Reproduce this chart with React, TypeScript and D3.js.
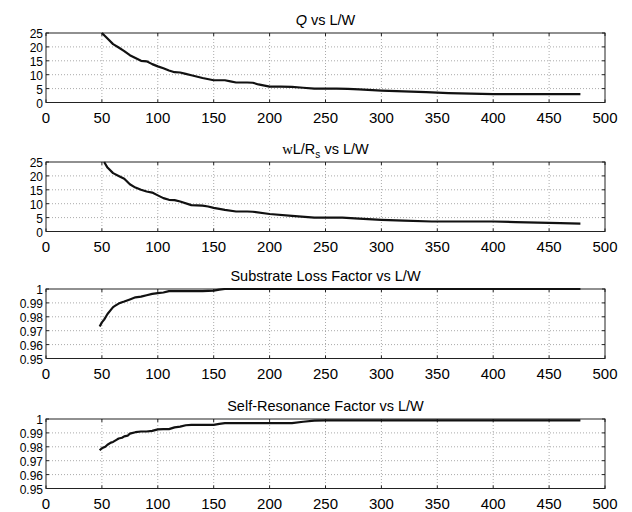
import React, { useEffect, useRef } from "react";
import * as d3 from "d3";

// Q vs L/W
const qX = [50, 55, 60, 65, 70, 75, 80, 85, 90, 95, 100, 105, 110, 115, 120, 125, 130, 140, 150, 160, 165, 170, 180, 185, 190, 200, 210, 220, 230, 240, 250, 260, 270, 280, 300, 320, 340, 360, 380, 400, 420, 440, 460, 478];
const qY = [25, 23, 21, 19.8, 18.5, 17, 16, 15, 14.8, 13.8, 13, 12.3, 11.5, 10.9, 10.8, 10.3, 9.8, 8.8, 8, 8, 7.6, 7.2, 7.2, 7.1, 6.5, 5.7, 5.7, 5.6, 5.3, 5, 5, 5, 4.9, 4.7, 4.3, 4, 3.7, 3.4, 3.2, 3, 3, 3, 3, 3];

// wL/Rs vs L/W
const wlX = [52, 55, 60, 65, 70, 75, 80, 85, 90, 95, 100, 105, 110, 115, 120, 130, 140, 145, 150, 160, 170, 180, 185, 200, 220, 240, 250, 265, 280, 300, 320, 345, 360, 380, 400, 420, 440, 460, 478];
const wlY = [25, 23, 21, 20, 19, 17, 15.8, 15, 14.4, 14, 13, 12, 11.4, 11.3, 10.8, 9.5, 9.3, 9, 8.5, 7.8, 7.2, 7.2, 7.1, 6.3, 5.6, 5, 5, 5, 4.6, 4.2, 3.9, 3.6, 3.6, 3.6, 3.6, 3.4, 3.2, 3, 2.8];

// substrate loss factor
const slX = [48, 50, 52, 55, 58, 60, 62, 65, 68, 70, 75, 80, 85, 90, 95, 100, 105, 110, 120, 130, 140, 150, 155, 160, 200, 300, 400, 478];
const slY = [0.973, 0.976, 0.978, 0.982, 0.985, 0.987, 0.988, 0.9895, 0.9905, 0.991, 0.9925, 0.994, 0.9945, 0.9955, 0.9965, 0.997, 0.9975, 0.9985, 0.9985, 0.9985, 0.9985, 0.9988, 0.9995, 1, 1, 1, 1, 1];

// self-resonance factor
const srX = [48, 50, 53, 55, 58, 60, 63, 65, 68, 70, 73, 75, 80, 85, 90, 95, 100, 105, 110, 115, 120, 125, 130, 150, 155, 160, 200, 220, 230, 240, 250, 300, 400, 478];
const srY = [0.9775, 0.979, 0.98, 0.9815, 0.983, 0.9835, 0.985, 0.986, 0.9865, 0.9875, 0.988, 0.9895, 0.9905, 0.991, 0.991, 0.9915, 0.9925, 0.9927, 0.9927, 0.994, 0.9945, 0.9955, 0.9958, 0.9958, 0.9965, 0.997, 0.997, 0.997, 0.998, 0.9988, 0.999, 0.999, 0.999, 0.999];

const xTicks = [0, 50, 100, 150, 200, 250, 300, 350, 400, 450, 500];
const bigTicks = [0, 5, 10, 15, 20, 25];
const fracTicks = [0.95, 0.96, 0.97, 0.98, 0.99, 1];

const panels = [
  { id: "q", xs: qX, ys: qY, yDomain: [0, 25], yTicks: bigTicks, top: 33 },
  { id: "wl", xs: wlX, ys: wlY, yDomain: [0, 25], yTicks: bigTicks, top: 162 },
  { id: "sl", xs: slX, ys: slY, yDomain: [0.95, 1], yTicks: fracTicks, top: 289 },
  { id: "sr", xs: srX, ys: srY, yDomain: [0.95, 1], yTicks: fracTicks, top: 419 },
];

const W = 632;
const H = 512;
const left = 46;
const right = 605;
const ph = 69.5;
const font = "'Liberation Sans', Arial, sans-serif";

export default function App() {
  const ref = useRef<SVGSVGElement>(null);

  useEffect(() => {
    const svg = d3.select(ref.current);
    svg.selectAll("*").remove();

    const x = d3.scaleLinear().domain([0, 500]).range([left, right]);

    panels.forEach((p, i) => {
      const y = d3.scaleLinear().domain(p.yDomain).range([p.top + ph, p.top]);
      const g = svg.append("g");

      // grid
      g.selectAll(".vg")
        .data(xTicks.slice(1, -1))
        .enter()
        .append("line")
        .attr("x1", (d) => x(d))
        .attr("x2", (d) => x(d))
        .attr("y1", p.top)
        .attr("y2", p.top + ph)
        .attr("stroke", "#aaa")
        .attr("stroke-width", 1)
        .attr("stroke-dasharray", "1,2");
      g.selectAll(".hg")
        .data(p.yTicks.slice(1, -1))
        .enter()
        .append("line")
        .attr("x1", left)
        .attr("x2", right)
        .attr("y1", (d) => y(d))
        .attr("y2", (d) => y(d))
        .attr("stroke", "#aaa")
        .attr("stroke-width", 1)
        .attr("stroke-dasharray", "1,2");

      // ticks inward, all four sides
      xTicks.forEach((t) => {
        g.append("line").attr("x1", x(t)).attr("x2", x(t)).attr("y1", p.top + ph).attr("y2", p.top + ph - 3).attr("stroke", "#222");
        g.append("line").attr("x1", x(t)).attr("x2", x(t)).attr("y1", p.top).attr("y2", p.top + 3).attr("stroke", "#222");
      });
      p.yTicks.forEach((t) => {
        g.append("line").attr("x1", left).attr("x2", left + 3).attr("y1", y(t)).attr("y2", y(t)).attr("stroke", "#222");
        g.append("line").attr("x1", right).attr("x2", right - 3).attr("y1", y(t)).attr("y2", y(t)).attr("stroke", "#222");
      });

      // box
      g.append("rect")
        .attr("x", left)
        .attr("y", p.top)
        .attr("width", right - left)
        .attr("height", ph)
        .attr("fill", "none")
        .attr("stroke", "#222")
        .attr("stroke-width", 1);

      // tick labels
      g.selectAll(".xl")
        .data(xTicks)
        .enter()
        .append("text")
        .attr("x", (d) => x(d))
        .attr("y", p.top + ph + 20.5)
        .attr("text-anchor", "middle")
        .attr("font-family", font)
        .attr("font-size", 15)
        .text((d) => d);
      const ySize = 12;
      g.selectAll(".yl")
        .data(p.yTicks)
        .enter()
        .append("text")
        .attr("x", 43)
        .attr("y", (d) => y(d) + ySize * 0.42)
        .attr("text-anchor", "end")
        .attr("font-family", font)
        .attr("font-size", ySize)
        .text((d) => d);

      // data line
      const clipId = `clip-${p.id}`;
      svg.append("clipPath").attr("id", clipId).append("rect")
        .attr("x", left).attr("y", p.top - 1).attr("width", right - left).attr("height", ph + 2);
      const line = d3.line<number>().x((d, k) => x(p.xs[k])).y((d) => y(d));
      g.append("path")
        .attr("d", line(p.ys))
        .attr("fill", "none")
        .attr("stroke", "#111")
        .attr("stroke-width", 2.2)
        .attr("stroke-linejoin", "round")
        .attr("clip-path", `url(#${clipId})`);

      // titles
      const cx = (left + right) / 2;
      const t = g.append("text")
        .attr("x", cx)
        .attr("y", p.top - 8.5)
        .attr("text-anchor", "middle")
        .attr("font-family", font)
        .attr("font-size", 14.5);
      if (i === 0) {
        t.append("tspan").attr("font-style", "italic").text("Q");
        t.append("tspan").text(" vs L/W");
      } else if (i === 1) {
        t.append("tspan").attr("font-family", "'Liberation Serif', serif").text("w");
        t.append("tspan").text("L/R");
        t.append("tspan").attr("font-size", 10).attr("dy", 4).text("s");
        t.append("tspan").attr("dy", -4).text("  vs L/W");
      } else if (i === 2) {
        t.text("Substrate Loss Factor vs L/W");
      } else {
        t.text("Self-Resonance Factor vs L/W");
      }
    });
  }, []);

  return (
    <div style={{ position: "absolute", left: 0, top: 0, width: W, height: H, background: "#fff" }}>
      <svg ref={ref} width={W} height={H} style={{ display: "block" }} />
    </div>
  );
}
